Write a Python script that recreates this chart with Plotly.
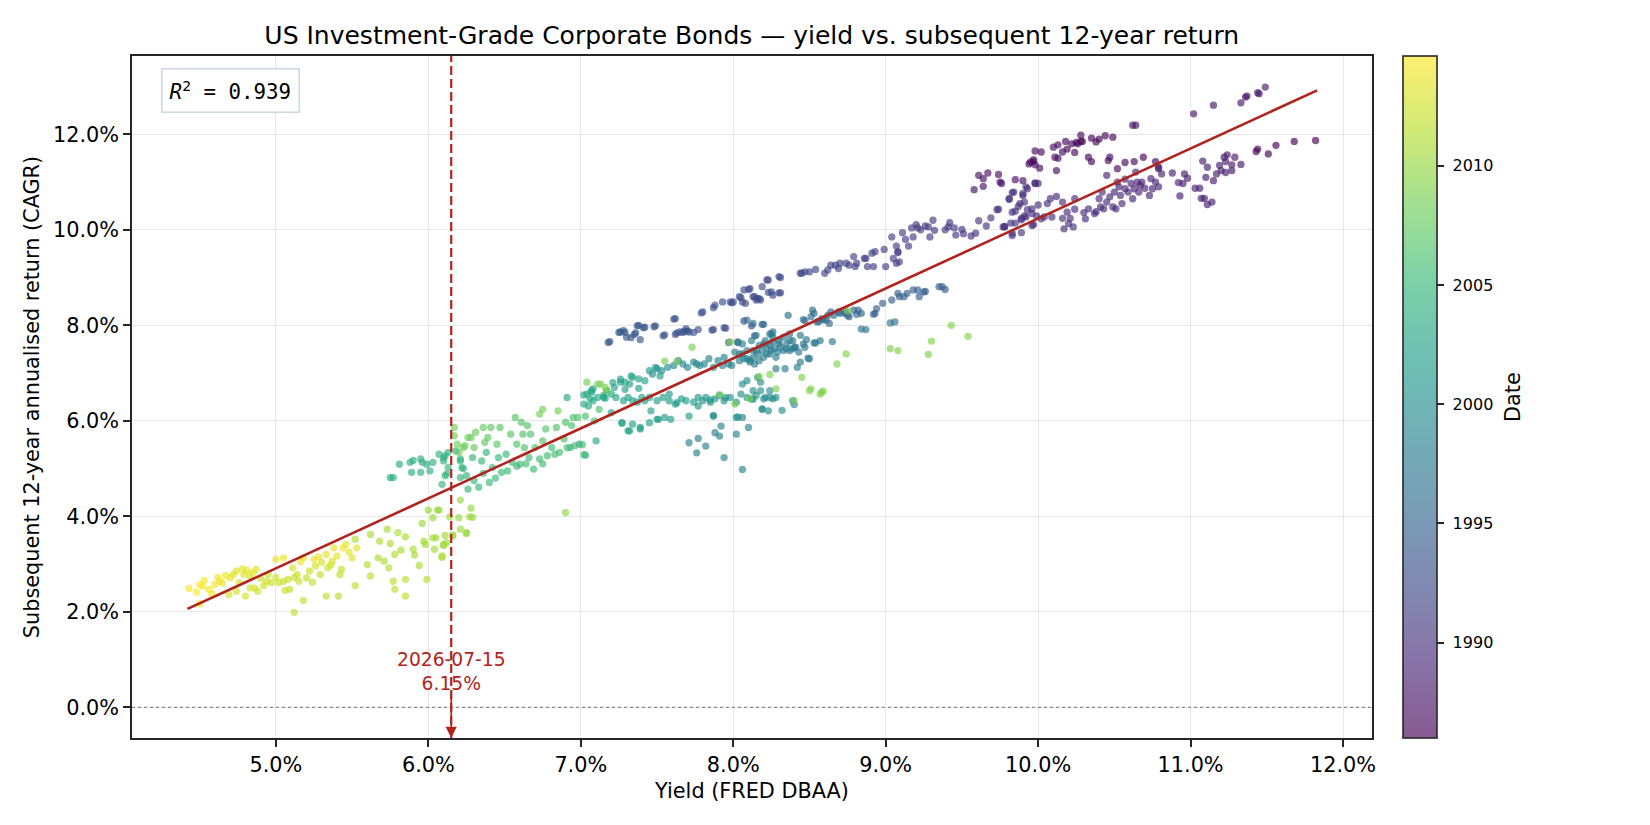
import plotly.graph_objects as go

# ---------------- data (yield %, subsequent 12y CAGR %, start year) ----------------
PTS_1986_87 = [
    (9.58,10.84,1987.3),(9.61,11.14,1987.2),(9.64,11.07,1987.2),(9.67,11.19,1987.2),(9.64,10.91,1987.3),
    (9.74,11.16,1987.1),(9.75,11.00,1987.1),(9.85,11.05,1987.1),(9.95,11.42,1987.0),(9.97,11.47,1987.0),
    (9.98,11.65,1986.9),(9.76,10.97,1987.1),(9.90,11.03,1987.0),(9.94,11.38,1987.0),(9.97,11.43,1986.9),
    (9.98,11.36,1986.9),(10.01,11.29,1986.9),(10.02,11.63,1986.8),(10.10,11.73,1986.8),(10.11,11.52,1986.8),
    (10.13,11.78,1986.7),(10.13,11.50,1986.7),(10.12,11.24,1986.9),(10.16,11.63,1986.7),(10.18,11.85,1986.6),
    (10.19,11.69,1986.6),(10.22,11.80,1986.6),(10.24,11.62,1986.6),(10.25,11.83,1986.5),(10.26,11.80,1986.5),
    (10.28,11.98,1986.5),(10.28,11.85,1986.5),(10.29,11.85,1986.5),(10.33,11.52,1986.6),(10.35,11.43,1986.6),
    (10.35,11.92,1986.4),(10.38,11.84,1986.4),(10.40,11.90,1986.4),(10.44,11.97,1986.4),(10.46,11.45,1986.5),
    (10.47,11.52,1986.5),(10.49,11.94,1986.3),(10.62,12.19,1987.7),(10.64,12.19,1987.7),(10.52,11.28,1986.5),
    (10.57,11.41,1986.5),(10.63,11.43,1986.5),(10.69,11.52,1986.4),(10.77,11.43,1986.4),(10.79,11.31,1986.4),
    (11.02,12.43,1987.8),(11.15,12.61,1987.8),(11.33,12.66,1987.8),(11.36,12.78,1987.8),(11.37,12.80,1987.8),
    (11.44,12.87,1987.85),(11.45,12.85,1987.85),(11.49,12.99,1987.85),
]

PTS_1988 = [
    (10.88,11.19,1988.4),(10.92,10.99,1988.4),(10.95,10.97,1988.4),(10.96,11.17,1988.3),(10.98,11.08,1988.3),
    (10.93,10.71,1988.4),(11.03,10.87,1988.3),(11.06,10.87,1988.3),(11.07,10.66,1988.3),(11.09,10.66,1988.2),
    (11.11,10.53,1988.2),(11.14,10.58,1988.2),(11.08,11.44,1988.1),(11.11,11.31,1988.1),(11.10,11.10,1988.2),
    (11.15,11.03,1988.1),(11.17,11.17,1988.1),(11.19,11.35,1988.0),(11.20,11.24,1988.0),(11.22,11.52,1988.0),
    (11.23,11.43,1988.0),(11.24,11.57,1987.95),(11.23,11.20,1988.0),(11.27,11.36,1987.9),(11.27,11.24,1987.9),
    (11.29,11.52,1987.9),(11.33,11.37,1987.9),(11.43,11.64,1986.2),(11.44,11.69,1986.2),(11.51,11.59,1986.1),
    (11.56,11.77,1986.1),(11.68,11.85,1986.05),(11.82,11.87,1986.0),
]

PTS_1989 = [
    (9.74,10.43,1989.6),(9.78,10.06,1990.0),(9.81,10.64,1989.5),(9.83,10.78,1989.4),(9.83,10.37,1989.6),
    (9.83,9.88,1990.0),(9.85,10.14,1989.9),(9.88,10.55,1989.5),(9.89,10.24,1989.7),(9.90,10.72,1989.4),
    (9.91,10.58,1989.5),(9.93,10.86,1989.3),(9.92,10.27,1989.7),(9.96,10.44,1989.6),(9.96,10.09,1989.8),
    (9.98,10.97,1989.3),(10.00,10.97,1989.3),(10.00,10.52,1989.5),(10.02,10.23,1989.7),(10.04,10.27,1989.6),
    (10.06,10.55,1989.5),(10.08,10.65,1989.4),(10.09,10.27,1989.6),(10.12,10.70,1989.4),(10.16,10.58,1989.4),
    (10.16,10.24,1989.6),(10.17,10.02,1989.7),(10.19,10.37,1989.5),(10.20,10.13,1989.6),(10.21,10.24,1989.5),
    (10.23,10.06,1989.6),(10.24,10.43,1989.4),(10.24,10.65,1989.3),(10.30,10.36,1989.4),(10.31,10.23,1989.5),
    (10.33,10.44,1989.3),(10.37,10.34,1989.3),(10.38,10.38,1989.2),(10.40,10.65,1989.1),(10.41,10.48,1989.2),
    (10.42,10.79,1989.0),(10.43,10.44,1989.2),(10.45,11.14,1988.8),(10.45,10.58,1989.1),(10.47,10.69,1989.0),
    (10.49,10.48,1989.1),(10.50,10.79,1989.0),(10.51,10.44,1989.1),(10.52,11.00,1988.9),(10.53,10.90,1988.9),
    (10.54,10.72,1989.0),(10.55,10.55,1989.0),(10.57,11.06,1988.8),(10.57,10.86,1988.9),(10.59,10.79,1988.9),
    (10.61,10.97,1988.8),(10.62,10.65,1988.9),(10.63,10.86,1988.8),(10.64,11.21,1988.7),(10.65,11.00,1988.7),
    (10.66,10.79,1988.8),(10.67,10.93,1988.7),(10.68,11.00,1988.7),(10.70,10.87,1988.7),(10.73,10.72,1988.7),
    (10.74,11.07,1988.6),(10.75,10.86,1988.6),(10.77,11.00,1988.6),(10.79,10.90,1988.6),(10.79,11.28,1988.5),
    (10.81,11.17,1988.5),
]

PTS_1990_92 = [
    (8.44,9.09,1992.2),(8.45,9.09,1992.2),(8.47,9.12,1992.2),(8.50,9.12,1992.1),(8.54,9.17,1992.1),
    (8.60,9.09,1992.0),(8.62,9.16,1992.0),(8.64,9.26,1991.9),(8.67,9.26,1991.9),(8.69,9.19,1991.9),
    (8.70,9.30,1991.8),(8.74,9.30,1991.8),(8.76,9.26,1991.8),(8.79,9.44,1991.7),(8.80,9.23,1991.7),
    (8.81,9.30,1991.7),(8.86,9.40,1991.6),(8.87,9.40,1991.6),(8.88,9.23,1991.6),(8.91,9.51,1991.5),
    (8.92,9.23,1991.5),(8.93,9.54,1991.5),(8.99,9.59,1991.4),(9.00,9.23,1991.4),(9.04,9.85,1991.3),
    (9.05,9.40,1991.3),(9.07,9.66,1991.3),(9.08,9.54,1991.2),(9.09,9.33,1991.2),(9.11,9.94,1991.2),
    (9.13,9.80,1991.1),(9.15,9.66,1991.1),(9.17,10.04,1991.0),(9.18,9.85,1991.0),(9.20,10.11,1991.0),
    (9.21,10.04,1990.9),(9.23,10.00,1990.9),(9.26,10.08,1990.9),(9.28,10.06,1990.8),(9.29,9.85,1990.8),
    (9.31,10.20,1990.8),(9.32,9.99,1990.7),(9.39,10.00,1990.7),(9.41,10.06,1990.7),(9.42,10.15,1990.6),
    (9.45,10.04,1990.6),(9.46,9.89,1990.6),(9.50,10.01,1990.5),(9.51,9.92,1990.5),(9.56,9.87,1990.5),
    (9.59,9.93,1990.4),(9.61,10.19,1990.4),(9.66,10.08,1990.3),(9.69,10.25,1990.3),(9.73,10.42,1990.2),
    (9.77,10.06,1990.2),(9.78,10.07,1990.2),(9.81,10.65,1990.1),(9.82,10.14,1990.1),(9.83,9.93,1990.1),
    (9.84,10.79,1990.0),(9.85,10.39,1990.0),(9.87,10.49,1990.0),(9.89,10.21,1989.9),(9.89,9.94,1989.9),
    (9.90,10.76,1989.9),(9.91,10.29,1989.9),(9.92,10.90,1989.8),(9.93,10.42,1989.8),(9.96,10.34,1989.8),
    (9.97,10.11,1989.7),(9.98,10.98,1989.7),(9.99,10.29,1989.7),(9.07,9.30,1991.3),(9.08,9.52,1991.2),
]

PTS_1992_93 = [
    (7.18,7.64,1993.9),(7.19,7.66,1993.9),(7.25,7.85,1993.8),(7.26,7.86,1993.8),(7.28,7.89,1993.8),
    (7.29,7.85,1993.8),(7.30,7.75,1993.8),(7.33,7.74,1993.7),(7.35,7.81,1993.7),(7.36,7.84,1993.7),
    (7.37,7.99,1993.6),(7.38,8.00,1993.6),(7.39,7.70,1993.7),(7.41,7.95,1993.6),(7.42,7.96,1993.6),
    (7.48,7.97,1993.5),(7.49,7.99,1993.5),(7.54,7.78,1993.5),(7.55,7.80,1993.5),(7.61,8.13,1993.4),
    (7.62,7.81,1993.4),(7.62,8.14,1993.4),(7.63,7.84,1993.4),(7.65,7.86,1993.4),(7.67,7.85,1993.3),
    (7.68,7.88,1993.3),(7.69,7.93,1993.3),(7.70,7.88,1993.3),(7.71,7.86,1993.3),(7.74,7.85,1993.3),
    (7.77,7.91,1993.2),(7.79,8.26,1993.2),(7.80,8.28,1993.2),(7.86,7.90,1993.1),(7.87,8.37,1993.1),
    (7.87,7.91,1993.1),(7.88,8.42,1993.1),(7.93,8.49,1993.0),(7.94,7.95,1993.0),(7.95,7.94,1993.0),
    (7.97,7.64,1993.0),(7.98,8.49,1992.9),(7.99,8.47,1992.9),(8.00,8.49,1992.9),(8.03,7.64,1992.9),
    (8.05,8.58,1992.8),(8.06,8.49,1992.8),(8.07,8.09,1992.8),(8.10,8.75,1992.7),(8.12,7.99,1992.7),
    (8.13,8.60,1992.7),(8.14,7.78,1992.7),(8.15,8.53,1992.6),(8.17,8.56,1992.6),(8.19,8.02,1992.6),
    (8.23,8.95,1992.5),(8.23,8.69,1992.5),(8.30,8.68,1992.4),(8.30,9.02,1992.4),(8.04,8.60,1992.8),
    (8.07,8.74,1992.7),(8.08,8.46,1992.7),(8.11,8.77,1992.6),(8.14,8.60,1992.6),(8.16,8.56,1992.6),
    (8.18,8.53,1992.5),(8.19,8.81,1992.5),(8.22,8.95,1992.5),(8.25,8.70,1992.4),(8.26,8.63,1992.4),
    (8.31,9.00,1992.3),(8.31,8.68,1992.3),
]

PTS_1994_96 = [
    (8.24,7.82,1996.5),(8.26,7.86,1996.5),(8.37,7.82,1996.4),(8.36,8.21,1996.2),(8.46,8.12,1996.1),
    (8.47,8.10,1996.0),(8.51,8.18,1995.9),(8.52,8.32,1995.8),(8.53,8.25,1995.8),(8.55,8.07,1995.9),
    (8.56,8.08,1995.9),(8.58,8.14,1995.8),(8.59,8.11,1995.8),(8.61,8.11,1995.7),(8.62,8.21,1995.6),
    (8.63,8.04,1995.7),(8.64,8.28,1995.5),(8.66,8.21,1995.5),(8.69,8.28,1995.4),(8.70,8.25,1995.4),
    (8.73,8.25,1995.3),(8.74,8.28,1995.3),(8.75,8.21,1995.3),(8.76,8.18,1995.2),(8.79,8.32,1995.1),
    (8.81,8.23,1995.1),(8.82,8.32,1995.0),(8.84,8.25,1995.0),(8.92,8.23,1994.9),(8.93,8.25,1994.9),
    (8.94,8.35,1994.8),(8.98,8.46,1994.8),(9.04,8.53,1994.7),(9.08,8.67,1994.6),(9.09,8.60,1994.6),
    (9.12,8.60,1994.5),(9.14,8.67,1994.5),(9.18,8.74,1994.4),(9.21,8.74,1994.4),(9.22,8.60,1994.4),
    (9.25,8.70,1994.3),(9.26,8.71,1994.3),(9.35,8.81,1994.2),(9.37,8.81,1994.2),(9.39,8.75,1994.1),
    (8.09,8.11,1996.4),(8.13,8.04,1996.4),(8.20,8.02,1996.3),
]

PTS_1997_99 = [
    (7.47,6.98,1999.6),(7.50,7.09,1999.5),(7.53,7.05,1999.5),(7.57,7.12,1999.4),(7.61,7.16,1999.3),
    (7.64,7.26,1999.2),(7.67,7.19,1999.2),(7.70,7.12,1999.1),(7.74,7.23,1999.0),(7.76,7.19,1999.0),
    (7.78,7.16,1998.9),(7.81,7.19,1998.9),(7.84,7.30,1998.8),(7.87,7.12,1998.8),(7.90,7.26,1998.7),
    (7.93,7.16,1998.7),(7.94,7.33,1998.6),(7.97,7.19,1998.6),(7.99,7.16,1998.5),(8.01,7.44,1998.5),
    (8.03,7.65,1998.3),(8.04,7.26,1998.4),(8.06,7.40,1998.3),(8.09,7.30,1998.3),(8.11,7.23,1998.2),
    (8.13,7.33,1998.2),(8.15,7.47,1998.1),(8.17,7.26,1998.1),(8.20,7.61,1998.0),(8.22,7.40,1998.0),
    (8.24,7.58,1997.9),(8.25,7.47,1997.9),(8.26,7.75,1997.8),(8.28,7.33,1997.9),(8.30,7.61,1997.8),
    (8.33,7.47,1997.7),(8.35,7.51,1997.7),(8.37,7.68,1997.6),(8.39,7.51,1997.6),(8.41,7.54,1997.5),
    (8.43,7.44,1997.5),(8.47,7.54,1997.4),(8.49,7.31,1997.4),(8.53,7.63,1997.3),(8.57,7.68,1997.2),
    (8.04,7.40,1998.4),(8.06,7.61,1998.3),(8.07,7.30,1998.3),(8.09,7.47,1998.3),(8.11,7.27,1998.2),
    (8.12,7.68,1998.2),(8.13,7.47,1998.2),(8.14,7.19,1998.1),(8.15,7.79,1998.1),(8.16,7.40,1998.1),
    (8.17,7.58,1998.0),(8.19,7.47,1998.0),(8.20,7.33,1998.0),(8.21,7.68,1997.9),(8.22,7.54,1997.9),
    (8.24,7.40,1997.9),(8.25,7.82,1997.8),(8.26,7.65,1997.8),(8.27,7.51,1997.8),(8.28,7.09,1997.9),
    (8.29,7.44,1997.7),(8.30,7.68,1997.7),(8.31,7.54,1997.7),(8.33,7.75,1997.6),(8.34,7.09,1997.8),
    (8.35,7.61,1997.6),(8.37,7.47,1997.6),(8.39,7.68,1997.5),(8.40,7.54,1997.5),(8.42,7.12,1997.6),
    (8.44,7.79,1997.4),(8.44,7.23,1997.5),(8.46,7.61,1997.4),(8.48,7.70,1997.3),(8.50,7.30,1997.4),
    (8.54,7.63,1997.3),(8.65,7.66,1997.1),(8.84,7.92,1996.9),(8.87,7.91,1996.9),(9.03,8.05,1996.8),
    (9.06,8.07,1996.8),
    (7.71,5.54,1998.6),(7.76,5.33,1998.7),(7.82,5.47,1998.6),(7.88,5.75,1998.5),(7.91,5.68,1998.5),
    (7.77,5.63,1998.6),(7.94,5.23,1998.7),(8.02,5.72,1998.4),(8.06,4.98,1998.8),(7.92,5.89,1998.5),
    (8.10,5.86,1998.4),(7.87,6.11,1998.5),(8.06,6.07,1998.4),
]

PTS_2000_03 = [
    (6.91,6.49,2003.0),(7.02,6.35,2003.0),(7.04,6.56,2002.9),(7.06,6.46,2002.9),(7.08,6.67,2002.8),
    (7.11,6.49,2002.8),(7.15,6.53,2002.7),(7.17,6.63,2002.7),(7.20,6.56,2002.6),(7.22,6.70,2002.6),
    (7.26,6.81,2002.5),(7.29,6.81,2002.5),(7.32,6.77,2002.4),(7.34,6.91,2002.4),(7.38,6.88,2002.3),
    (7.42,6.84,2002.3),(7.05,6.31,2003.1),(7.07,6.63,2002.9),(7.08,6.42,2003.0),(7.10,5.58,2002.9),
    (7.15,6.49,2002.8),(7.20,6.17,2002.7),(7.21,6.80,2002.6),(7.23,6.49,2002.6),(7.26,6.87,2002.5),
    (7.27,5.95,2002.5),(7.28,6.42,2002.4),(7.29,6.66,2002.4),(7.31,5.79,2002.3),(7.31,6.49,2002.2),
    (7.33,6.94,2002.3),(7.34,6.42,2002.2),(7.34,5.93,2002.2),(7.37,6.39,2002.1),(7.38,6.68,2002.1),
    (7.39,5.83,2002.1),(7.40,6.49,2002.0),(7.42,6.42,2002.0),(7.45,6.49,2001.9),(7.45,7.05,2001.5),
    (7.46,6.21,2001.9),(7.49,7.12,2001.4),(7.50,6.03,2001.8),(7.50,6.42,2001.8),(7.52,6.94,2001.6),
    (7.54,6.49,2001.7),(7.55,6.07,2001.7),(7.58,6.56,2001.6),(7.58,6.42,2001.5),(7.59,6.03,2001.6),
    (7.62,6.35,2001.5),(7.63,6.38,2001.4),(7.66,6.46,2001.3),(7.69,6.42,2001.3),(7.71,6.10,2001.2),
    (7.74,6.39,2001.2),(7.77,6.49,2001.1),(7.77,6.31,2001.1),(7.80,6.42,2001.0),(7.82,6.49,2000.9),
    (7.85,6.39,2000.9),(7.85,6.44,2000.9),(7.87,6.10,2000.8),(7.88,6.46,2000.8),(7.91,6.53,2000.7),
    (7.94,6.42,2000.7),(7.95,6.49,2000.6),(7.98,6.49,2000.6),(8.02,6.39,2000.5),(8.02,6.07,2000.5),
    (8.05,6.56,2000.4),(8.09,6.49,2000.4),(8.12,6.46,2000.3),(8.13,6.45,2000.3),(8.15,6.53,2000.2),
    (8.18,6.63,2000.2),(8.20,6.46,2000.1),(8.24,6.49,2000.1),(8.19,6.24,2000.0),(8.03,6.08,2000.4),
    (8.06,6.77,2000.3),(8.09,6.84,2000.2),(8.13,6.63,2000.2),(8.16,6.91,2000.1),(8.18,6.81,2000.1),
    (8.21,6.49,2000.0),(8.24,6.63,2000.0),(8.26,6.46,1999.9),(8.28,6.49,1999.9),(8.32,6.22,1999.8),
    (8.23,6.21,1999.9),(8.19,6.25,1999.9),(8.39,6.42,1999.7),(8.40,6.34,1999.7),(7.27,5.96,2002.4),
    (7.32,5.79,2002.3),(7.39,5.86,2002.1),(7.45,5.96,2001.9),(7.51,6.03,2001.8),(7.03,5.28,2002.9),
    (6.93,5.44,2003.0),(6.99,5.51,2003.0),(7.02,6.54,2003.0),(7.07,6.60,2002.9),(7.16,6.47,2002.8),
]

PTS_2003_05 = [
    (5.75,4.81,2003.6),(5.77,4.81,2003.6),(5.81,5.09,2003.8),(5.88,5.13,2003.9),(5.89,4.92,2003.7),
    (5.90,5.17,2003.9),(5.95,5.20,2004.0),(5.95,4.92,2003.8),(5.96,5.13,2004.0),(5.99,5.09,2004.1),
    (6.01,4.95,2004.2),(6.03,5.13,2004.1),(6.07,5.30,2004.3),(6.10,5.16,2004.3),(6.11,4.85,2004.5),
    (6.09,4.67,2004.6),(6.11,5.27,2004.4),(6.13,5.02,2004.5),(6.21,5.20,2004.6),(6.22,5.02,2004.7),
    (6.25,4.85,2004.8),(6.21,4.81,2004.8),(6.10,5.23,2004.2),(6.12,4.89,2004.6),(6.13,5.34,2004.1),
    (6.18,5.37,2004.2),(6.21,5.16,2004.5),(6.23,5.00,2005.0),(6.29,5.23,2004.9),(6.26,4.57,2005.0),
    (6.33,4.61,2005.1),(6.35,5.16,2004.8),(6.38,5.34,2004.9),(6.40,4.71,2005.2),(6.42,5.02,2005.0),
    (6.46,5.23,2005.1),(6.48,4.92,2005.3),(6.51,5.30,2005.2),(6.55,5.13,2005.4),(6.60,5.09,2005.5),
    (6.66,5.23,2005.6),(6.69,4.99,2005.6),(6.73,5.20,2005.7),(6.78,5.27,2005.7),(6.83,5.30,2005.8),
    (6.86,5.34,2005.9),(6.91,5.44,2006.0),(6.96,5.48,2005.9),(7.01,5.50,2006.0),(7.02,5.29,2006.1),
    (6.30,4.75,2005.1),(6.36,4.90,2005.0),(6.44,4.80,2005.3),(6.52,4.95,2005.4),(6.58,5.05,2005.5),
    (6.64,5.10,2005.6),(6.75,5.10,2005.8),(6.81,5.44,2005.8),
]

PTS_2006_09 = [
    (6.17,5.86,2008.3),(6.17,5.69,2008.2),(6.19,5.51,2008.1),(6.20,5.34,2008.0),(6.23,5.44,2008.1),
    (6.26,5.65,2008.2),(6.24,5.48,2007.9),(6.28,5.65,2007.8),(6.30,5.44,2007.7),(6.31,5.76,2007.9),
    (6.36,5.86,2007.6),(6.37,5.55,2007.5),(6.39,5.65,2007.4),(6.41,5.86,2007.3),(6.45,5.51,2007.2),
    (6.47,5.86,2007.1),(6.54,5.72,2007.0),(6.57,6.07,2006.9),(6.58,5.51,2006.6),(6.61,5.97,2006.8),
    (6.62,5.72,2006.7),(6.63,5.44,2006.4),(6.65,5.90,2006.7),(6.67,5.72,2006.5),(6.70,5.44,2006.3),
    (6.73,6.14,2008.4),(6.75,5.58,2006.4),(6.75,6.24,2008.5),(6.77,5.83,2006.6),(6.84,5.86,2006.5),
    (6.85,6.21,2008.4),(6.89,5.62,2006.2),(6.90,5.97,2006.3),(6.94,5.90,2006.4),(6.95,6.07,2006.5),
    (6.98,6.07,2006.4),(7.03,6.10,2006.2),(7.09,6.00,2006.3),(7.13,6.77,2008.6),(7.17,6.63,2008.5),
    (7.12,6.24,2006.2),
    (7.73,7.54,2008.7),(7.98,7.65,2008.7),(7.55,7.25,2008.6),(7.63,7.24,2008.6),(8.17,6.93,2008.8),
    (8.24,6.97,2008.8),(8.45,6.91,2008.9),(8.50,6.63,2008.9),(8.58,6.60,2008.9),(8.68,7.19,2009.0),
    (8.74,7.40,2009.0),(8.75,8.30,2008.8),(9.03,7.51,2009.1),(9.08,7.47,2009.1),(9.28,7.39,2009.2),
    (9.30,7.67,2009.2),(9.43,8.00,2009.1),(9.54,7.77,2009.2),(7.91,6.55,2008.7),(8.01,6.35,2008.8),
    (8.11,6.46,2008.8),(8.28,6.67,2008.9),(8.40,6.42,2008.9),(7.04,6.81,2008.6),(7.11,6.77,2008.6),
    (7.16,6.70,2008.6),(8.51,6.67,2009.0),(8.57,6.56,2009.0),(8.59,6.62,2009.0),
]

PTS_2010_11 = [
    (5.52,3.52,2011.0),(5.60,2.99,2011.3),(5.62,2.75,2011.4),(5.62,3.62,2010.9),(5.67,3.13,2011.1),
    (5.68,3.48,2011.0),(5.71,3.06,2011.2),(5.73,3.73,2010.8),(5.74,2.92,2011.3),(5.75,3.43,2011.0),
    (5.77,2.64,2011.5),(5.78,2.47,2011.5),(5.78,3.20,2011.1),(5.80,3.66,2010.8),(5.82,3.29,2011.0),
    (5.85,3.57,2010.9),(5.85,2.68,2011.4),(5.85,2.33,2011.5),(5.90,3.31,2010.9),(5.91,3.19,2011.0),
    (5.94,2.97,2011.2),(5.96,3.85,2010.5),(5.97,3.48,2010.7),(5.99,2.68,2011.3),(5.98,3.41,2010.6),
    (6.00,4.13,2010.2),(6.03,3.97,2010.3),(6.03,3.55,2010.6),(6.04,3.31,2010.8),(6.05,3.55,2010.5),
    (6.06,4.13,2010.1),(6.09,3.17,2010.9),(6.10,3.41,2010.6),(6.12,3.45,2010.4),(6.14,3.99,2010.2),
    (6.16,3.59,2010.3),(6.20,3.97,2010.1),(6.21,4.34,2009.9),(6.21,3.73,2010.2),(6.25,3.66,2010.2),
    (6.27,3.99,2010.0),(6.07,4.13,2010.1),(6.28,4.17,2009.9),(6.29,3.98,2010.0),(6.11,3.60,2010.4),
    (6.16,3.61,2010.3),(6.25,3.64,2010.1),(6.10,3.39,2010.5),(6.09,3.14,2010.7),(6.90,4.08,2009.6),
]

PTS_2012_14 = [
    (4.43,2.49,2014.5),(4.48,2.41,2014.4),(4.50,2.57,2014.3),(4.50,2.17,2014.6),(4.53,2.66,2014.2),
    (4.52,2.54,2014.4),(4.56,2.47,2014.1),(4.58,2.38,2014.3),(4.60,2.57,2014.0),(4.63,2.64,2013.9),
    (4.65,2.60,2014.0),(4.69,2.36,2012.8),(4.70,2.71,2013.6),(4.72,2.78,2013.4),(4.74,2.85,2013.3),
    (4.76,2.61,2012.9),(4.79,2.78,2013.2),(4.81,2.87,2013.3),(4.83,2.75,2013.1),(4.85,2.82,2013.5),
    (4.87,2.89,2013.4),(4.86,2.50,2012.7),(4.80,2.33,2012.9),(4.74,2.43,2012.8),(4.83,2.50,2012.7),
    (4.88,2.43,2012.6),(4.94,2.64,2012.5),(4.97,2.61,2012.6),(5.02,2.61,2012.4),(5.05,2.64,2012.3),
    (5.06,2.45,2012.2),(5.00,3.10,2013.7),(5.05,3.13,2013.8),(5.08,2.68,2012.4),(5.09,2.47,2012.0),
    (5.11,2.92,2013.0),(5.14,2.78,2012.2),(5.12,1.99,2011.8),(5.18,2.24,2011.9),(5.15,2.64,2012.1),
    (5.18,3.13,2013.9),(5.20,2.71,2012.0),(5.22,2.85,2012.1),(5.25,3.10,2013.8),(5.26,2.96,2012.9),
    (5.29,2.78,2011.9),(5.30,3.04,2013.0),(5.33,3.20,2013.7),(5.34,2.92,2012.3),(5.37,3.06,2013.1),
    (5.38,3.34,2013.6),(5.40,3.17,2013.4),(5.42,2.78,2011.7),(5.43,2.89,2012.0),(5.44,3.34,2013.7),
    (5.46,3.41,2013.6),(5.50,3.13,2013.2),(5.53,3.34,2013.6),(5.33,2.33,2011.6),(5.41,2.33,2011.5),
    (5.52,2.55,2011.8),(4.62,2.72,2014.0),(4.67,2.76,2013.8),(4.78,2.90,2013.5),(4.90,2.70,2012.6),
    (4.92,2.55,2012.4),(4.95,2.78,2012.5),(5.00,2.72,2012.4),(5.12,2.72,2012.3),(5.16,3.05,2013.9),
    (5.24,2.62,2012.0),(5.28,3.15,2013.8),(5.36,2.98,2012.6),(5.48,3.25,2013.5),
]

# regression line end points
FIT_X = [4.42, 11.83]
FIT_Y = [2.06, 12.92]
R2_TEXT = "0.939"

# current reading
CURRENT_DATE = "2026-07-15"
CURRENT_YIELD = 6.15

X_TICKS = [5, 6, 7, 8, 9, 10, 11, 12]
Y_TICKS = [0, 2, 4, 6, 8, 10, 12]
CB_TICKS = [1990, 1995, 2000, 2005, 2010]
X_RANGE = [4.056, 12.19]
Y_RANGE = [-0.643, 13.64]
C_RANGE = [1986.0, 2014.6]

# ---------------- build ----------------
allpts = (PTS_1986_87 + PTS_1988 + PTS_1989 + PTS_1990_92 + PTS_1992_93 + PTS_1994_96 +
          PTS_1997_99 + PTS_2000_03 + PTS_2003_05 + PTS_2006_09 + PTS_2010_11 + PTS_2012_14)
allpts = sorted(allpts, key=lambda p: p[2])
xs = [p[0] for p in allpts]
ys = [p[1] for p in allpts]
cs = [p[2] for p in allpts]

A = 0.65
vir = [(68,1,84),(72,40,120),(62,73,137),(49,104,142),(38,130,142),
       (31,158,137),(53,183,121),(110,206,88),(181,222,43),(253,231,37)]
cscale = [[i/(len(vir)-1), f"rgba({r},{g},{b},{A})"] for i,(r,g,b) in enumerate(vir)]

RED = "#b2221c"
FONT = "DejaVu Sans"
W, H = 1650, 825
L, R, T, B = 131.5, 278, 55.7, 87.3
pw = W - L - R

fig = go.Figure()
fig.add_trace(go.Scatter(
    x=xs, y=ys, mode="markers", showlegend=False, hoverinfo="skip",
    marker=dict(size=7.3, color=cs, colorscale=cscale, cmin=C_RANGE[0], cmax=C_RANGE[1],
                line=dict(width=0),
                colorbar=dict(thickness=34, thicknessmode="pixels", len=1, lenmode="fraction",
                              x=(1403 - L) / pw, xanchor="left", xpad=0,
                              y=0.5, yanchor="middle", ypad=0,
                              outlinewidth=1.6, outlinecolor="#262626",
                              tickvals=CB_TICKS, ticktext=["\u00a0" + str(v) for v in CB_TICKS],
                              ticks="outside", ticklen=7, tickwidth=1.6, tickcolor="#262626",
                              tickfont=dict(size=16, family=FONT, color="#000"))),
))
fig.add_trace(go.Scatter(x=FIT_X, y=FIT_Y, mode="lines", showlegend=False, hoverinfo="skip",
                         line=dict(color=RED, width=2.6)))

# zero line and current-yield line
fig.add_shape(type="line", xref="x domain", yref="y", x0=0, x1=1, y0=0, y1=0,
              line=dict(color="#8c8c8c", width=1.2, dash="dot"), layer="above")
fig.add_shape(type="line", xref="x", yref="y domain", x0=CURRENT_YIELD, x1=CURRENT_YIELD, y0=0, y1=1,
              line=dict(color=RED, width=2.2, dash="9px,4px"), layer="above")

fig.add_annotation(x=CURRENT_YIELD, y=Y_RANGE[0], xref="x", yref="y",
                   ax=CURRENT_YIELD, ay=0.754, axref="x", ayref="y",
                   text=f"{CURRENT_DATE}<br>{CURRENT_YIELD:.2f}%", showarrow=True,
                   arrowhead=2, arrowsize=1.4, arrowwidth=1.6, arrowcolor=RED, standoff=0,
                   font=dict(size=18.7, color=RED, family=FONT))

fig.add_annotation(x=(161 - L) / pw, y=(825 - B - 68) / (825 - T - B), xref="paper", yref="paper",
                   xanchor="left", yanchor="top", showarrow=False,
                   text=f"<i>R</i><sup>2</sup> = {R2_TEXT}",
                   font=dict(size=20.8, family="DejaVu Sans Mono", color="#000"),
                   bgcolor="white", bordercolor="#cfd6e4", borderwidth=1.6, borderpad=7)

fig.add_annotation(x=(1513 - L) / pw, y=0.5, xref="paper", yref="paper", showarrow=False,
                   xanchor="center", yanchor="middle",
                   text="Date", textangle=-90, font=dict(size=20.8, family=FONT, color="#000"))

axis_common = dict(showline=True, linecolor="#262626", linewidth=1.6, mirror=True,
                   ticks="outside", ticklen=7, tickwidth=1.6, tickcolor="#262626",
                   showgrid=True, gridcolor="#e6e6e6", gridwidth=1.2, zeroline=False,
                   tickfont=dict(size=20.8, family=FONT, color="#000"))

fig.update_xaxes(range=X_RANGE, tickvals=X_TICKS, ticktext=[f"{v:.1f}%" for v in X_TICKS],
                 title=dict(text="Yield (FRED DBAA)", font=dict(size=20.8, family=FONT, color="#000"),
                            standoff=8), **axis_common)
fig.update_yaxes(range=Y_RANGE, tickvals=Y_TICKS, ticktext=[f"{v:.1f}%" for v in Y_TICKS],
                 title=dict(text="Subsequent 12-year annualised return (CAGR)",
                            font=dict(size=20.8, family=FONT, color="#000"), standoff=8),
                 **axis_common)

fig.update_layout(
    width=W, height=H, margin=dict(l=L, r=R, t=T, b=B, autoexpand=False),
    plot_bgcolor="white", paper_bgcolor="white",
    font=dict(family=FONT, color="#000"),
    title=dict(text="US Investment-Grade Corporate Bonds — yield vs. subsequent 12-year return",
               x=(L + pw / 2) / W, xanchor="center", y=1 - 35 / H, yanchor="middle",
               font=dict(size=25, family=FONT, color="#000")),
)

fig.write_html("out.html")
